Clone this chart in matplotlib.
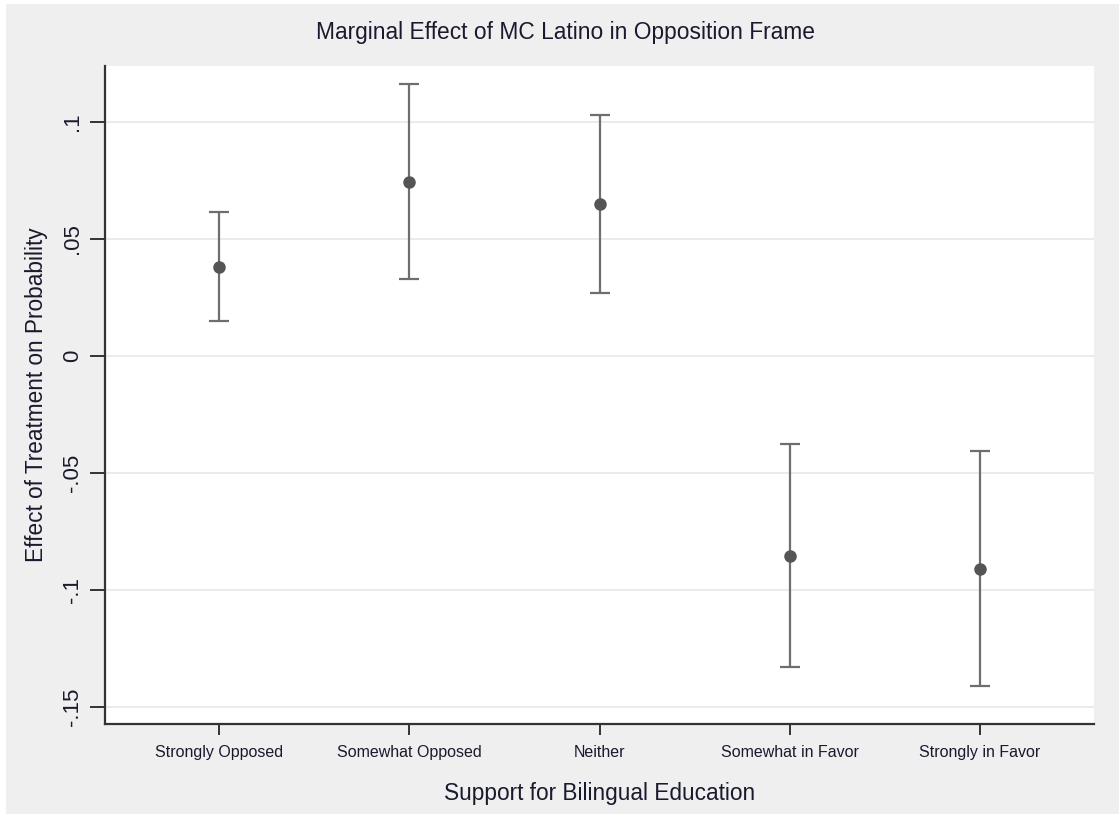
import matplotlib
matplotlib.use("Agg")
import matplotlib.pyplot as plt
from matplotlib.patches import Rectangle

plt.rcParams['font.family'] = ['Liberation Sans', 'DejaVu Sans']

# marginal effects with 95% confidence bounds
categories = ["Strongly Opposed", "Somewhat Opposed", "Neither",
              "Somewhat in Favor", "Strongly in Favor"]
effects = [0.038, 0.0744, 0.065, -0.0855, -0.091]
lower = [0.015, 0.0329, 0.0269, -0.1329, -0.141]
upper = [0.0615, 0.1162, 0.103, -0.0376, -0.0406]
yticks = [-0.15, -0.1, -0.05, 0, 0.05, 0.1]
ytick_labels = ["-.15", "-.1", "-.05", "0", ".05", ".1"]

txt = "#1a1a2e"

fig = plt.figure(figsize=(11.19, 8.14), dpi=100)
fig.patch.set_facecolor("white")
fig.patches.append(Rectangle((6 / 1119, 0), 1, 1 - 4 / 814, transform=fig.transFigure,
                             facecolor="#efefef", edgecolor="none", zorder=-1))

ax = fig.add_axes([105 / 1119, 1 - 724 / 814, 989 / 1119, 658 / 814])
ax.set_facecolor("white")

x = list(range(1, len(categories) + 1))
yerr = [[e - l for e, l in zip(effects, lower)], [u - e for e, u in zip(effects, upper)]]
ax.errorbar(x, effects, yerr=yerr, fmt="none", ecolor="#6e6e6e", elinewidth=1.6,
            capsize=7, capthick=1.6, zorder=3)
ax.plot(x, effects, "o", color="#555555", markersize=8, zorder=4)

ax.set_xlim(0.4, 5.6)
ax.set_ylim(-0.1573, 0.1239)
ax.set_yticks(yticks)
ax.set_yticklabels(ytick_labels, rotation=90, va="center", fontsize=16, color=txt)
ax.set_xticks(x)
ax.set_xticklabels(categories, fontsize=11.5, color=txt)
ax.grid(axis="y", color="#e8e8e8", linewidth=1.2)
ax.set_axisbelow(True)

for side in ["top", "right"]:
    ax.spines[side].set_visible(False)
for side in ["left", "bottom"]:
    ax.spines[side].set_color("#333333")
    ax.spines[side].set_linewidth(1.6)
ax.tick_params(axis="y", length=11, width=1.4, color="#333333", pad=5)
ax.tick_params(axis="x", length=8, width=1.4, color="#333333", pad=7)

# title sits centred on the whole figure
fig.text(565 / 1119, 1 - 32 / 814, "Marginal Effect of MC Latino in Opposition Frame",
         fontsize=16.4, color=txt, ha="center", va="center")
ax.set_xlabel("Support for Bilingual Education", fontsize=16.3, color=txt, labelpad=16)
ax.set_ylabel("Effect of Treatment on Probability", fontsize=16.3, color=txt, labelpad=10)

fig.savefig("out.png", dpi=100)
